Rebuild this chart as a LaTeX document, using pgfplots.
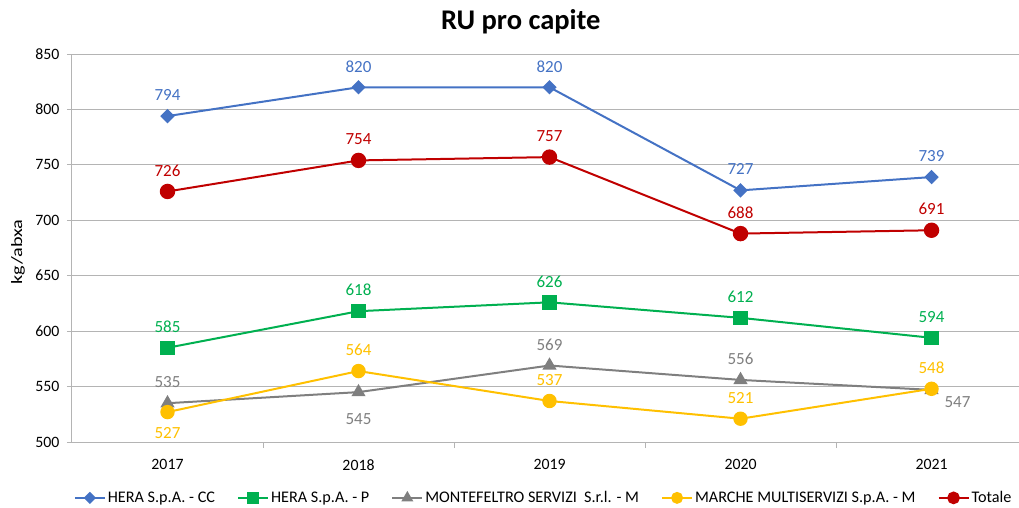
\documentclass[border=0pt]{standalone}
\usepackage{pgfplots}
\usepackage{pgfplotstable}
\pgfplotsset{compat=1.18}
\usepackage{fontspec}
\setmainfont{Carlito}
\definecolor{cblue}{HTML}{4472C4}
\definecolor{cgreen}{HTML}{00B050}
\definecolor{cgray}{HTML}{7F7F7F}
\definecolor{cyellow}{HTML}{FFC000}
\definecolor{cred}{HTML}{C00000}
\definecolor{gridc}{RGB}{180,180,180}

\pgfplotstableread{
x y dx dy
0 794 0 21
1 820 0 21
2 820 0 21
3 727 0 21
4 739 0 21
}\hcc
\pgfplotstableread{
x y dx dy
0 585 0 21
1 618 0 21
2 626 0 21
3 612 0 21
4 594 0 21
}\hp
\pgfplotstableread{
x y dx dy
0 535 0 21
1 545 0 -27
2 569 0 21
3 556 0 21
4 547 26 -12
}\mont
\pgfplotstableread{
x y dx dy
0 527 0 -21
1 564 0 21
2 537 0 21
3 521 0 21
4 548 0 21
}\marche
\pgfplotstableread{
x y dx dy
0 726 0 21
1 754 0 21
2 757 0 21
3 688 0 21
4 691 0 21
}\tot

\begin{document}
\begin{tikzpicture}
\useasboundingbox (-72pt,-65pt) rectangle (947pt,442pt);
\begin{axis}[
  at={(0pt,0pt)}, anchor=south west,
  scale only axis, width=947pt, height=388pt,
  xmin=-0.5, xmax=4.458, ymin=500, ymax=850,
  axis x line*=bottom, axis y line*=left,
  axis line style={draw=gridc, line width=1pt},
  xtick={0,1,2,3,4}, xticklabels={2017,2018,2019,2020,2021},
  minor xtick={0.5,1.5,2.5,3.5},
  ytick={500,550,...,850},
  ymajorgrids, grid style={draw=gridc, line width=1pt},
  tick align=outside,
  major tick length=5pt, minor tick length=6pt,
  major x tick style={draw=none},
  minor x tick style={draw=gridc, line width=1pt},
  major y tick style={draw=gridc, line width=1pt},
  tick label style={font=\fontsize{15.8}{18}\selectfont, text=black},
  /pgf/number format/assume math mode=true,
  yticklabel style={xshift=-4pt},
  xticklabel style={yshift=-9pt},
  title={\bfseries RU pro capite},
  title style={at={(axis description cs:0.474,1)}, anchor=center, yshift=26pt, font=\fontsize{28.5}{32}\selectfont},
  ylabel={\scalebox{1.28}[1]{kg/abxa}},
  ylabel style={at={(axis description cs:-0.057,0.49)}, anchor=center, font=\fontsize{15.8}{18}\selectfont},
  legend style={at={(axis description cs:0.498,-0.144)}, anchor=center, draw=none, fill=none,
    font=\fontsize{16.2}{18}\selectfont, legend columns=5,
    /tikz/every even column/.append style={column sep=20pt}},
  legend cell align=left,
  legend image code/.code={\draw[mark repeat=2,mark phase=2,#1, every mark/.append style={scale=0.8}] plot coordinates {(0pt,0pt) (15pt,0pt) (30pt,0pt)};},
  nodes near coords,
  point meta=explicit,
  visualization depends on={\thisrow{dx} \as \dx},
  visualization depends on={\thisrow{dy} \as \dy},
  every node near coord/.append style={anchor=center, xshift=\dx, yshift=\dy, font=\fontsize{17}{20}\selectfont},
  clip=false,
]
\addplot[cblue, line width=2pt, mark=diamond*, mark size=5.8pt, mark options={xscale=1.333, fill=cblue, draw=cblue},
  nodes near coords style={text=cblue}] table[x=x, y=y, meta=y] {\hcc};
\addlegendentry{HERA S.p.A. - CC}
\addplot[cgreen, line width=2pt, mark=square*, mark size=6.2pt, mark options={fill=cgreen, draw=cgreen},
  nodes near coords style={text=cgreen}] table[x=x, y=y, meta=y] {\hp};
\addlegendentry{HERA S.p.A. - P}
\addplot[cgray, line width=2pt, mark=triangle*, mark size=6.2pt, mark options={fill=cgray, draw=cgray},
  nodes near coords style={text=cgray}] table[x=x, y=y, meta=y] {\mont};
\addlegendentry{MONTEFELTRO SERVIZI~ S.r.l. - M}
\addplot[cyellow, line width=2pt, mark=*, mark size=6.2pt, mark options={fill=cyellow, draw=cyellow},
  nodes near coords style={text=cyellow}] table[x=x, y=y, meta=y] {\marche};
\addlegendentry{MARCHE MULTISERVIZI S.p.A. - M}
\addplot[cred, line width=2pt, mark=*, mark size=6.7pt, mark options={fill=cred, draw=cred},
  nodes near coords style={text=cred}] table[x=x, y=y, meta=y] {\tot};
\addlegendentry{Totale}
\end{axis}
\end{tikzpicture}
\end{document}
